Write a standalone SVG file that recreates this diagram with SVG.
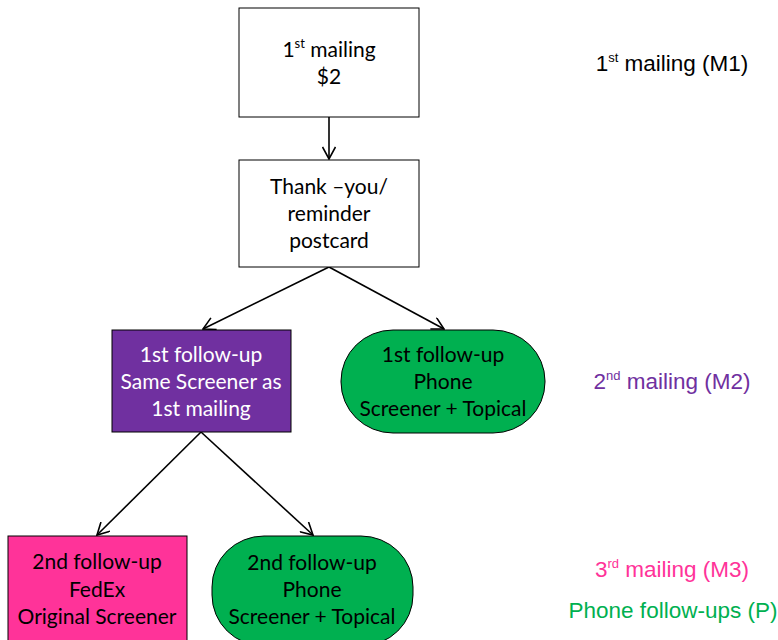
<svg xmlns="http://www.w3.org/2000/svg" width="778" height="640" viewBox="0 0 778 640">
<defs>
<marker id="arr" viewBox="0 0 14 14" refX="13" refY="7" markerWidth="14" markerHeight="14" markerUnits="userSpaceOnUse" orient="auto">
<path d="M1,0.5 L13,7 L1,13.5" fill="none" stroke="#000" stroke-width="1.6"/>
</marker>
<style>
.box{stroke:#000;stroke-width:1}
.t{font-family:Lato,"Liberation Sans",sans-serif;font-size:21px;text-anchor:middle}
.r{font-family:"Liberation Sans",Arial,sans-serif;font-size:22.5px;text-anchor:middle}
.sup{font-size:13px}
.c{stroke:#000;stroke-width:1.6;fill:none}
</style>
</defs>
<rect width="778" height="640" fill="#fff"/>
<g id="connectors">
<line class="c" x1="329" y1="117" x2="329" y2="159" marker-end="url(#arr)"/>
<line class="c" x1="329" y1="267" x2="203" y2="329" marker-end="url(#arr)"/>
<line class="c" x1="329" y1="267" x2="444" y2="329" marker-end="url(#arr)"/>
<line class="c" x1="201" y1="432" x2="97" y2="535" marker-end="url(#arr)"/>
<line class="c" x1="201" y1="432" x2="313" y2="535" marker-end="url(#arr)"/>
</g>
<g id="m1">
<rect class="box" x="239" y="8" width="180" height="109" fill="#fff"/>
<text class="t" x="329" y="57">1<tspan class="sup" dy="-9">st</tspan><tspan dy="9"> mailing</tspan></text>
<text class="t" x="329" y="84">$2</text>
</g>
<g id="postcard">
<rect class="box" x="239" y="160" width="180" height="107" fill="#fff"/>
<text class="t" x="329" y="194">Thank –you/</text>
<text class="t" x="329" y="221">reminder</text>
<text class="t" x="329" y="248">postcard</text>
</g>
<g id="fu1">
<rect class="box" x="112" y="330" width="179" height="102" fill="#7030A0"/>
<text class="t" x="201" y="362" fill="#fff">1st follow-up</text>
<text class="t" x="201" y="389" fill="#fff">Same Screener as</text>
<text class="t" x="201" y="416" fill="#fff">1st mailing</text>
</g>
<g id="fu1phone">
<rect class="box" x="341" y="330" width="204" height="103" rx="52" ry="51" fill="#00B050"/>
<text class="t" x="443" y="362">1st follow-up</text>
<text class="t" x="443" y="389">Phone</text>
<text class="t" x="443" y="416">Screener + Topical</text>
</g>
<g id="fu2">
<rect class="box" x="8" y="536" width="179" height="110" fill="#FF3399"/>
<text class="t" x="97" y="569">2nd follow-up</text>
<text class="t" x="97" y="597">FedEx</text>
<text class="t" x="97" y="624">Original Screener</text>
</g>
<g id="fu2phone">
<rect class="box" x="212" y="536" width="201" height="110" rx="52" ry="51" fill="#00B050"/>
<text class="t" x="312" y="570">2nd follow-up</text>
<text class="t" x="312" y="597">Phone</text>
<text class="t" x="312" y="624">Screener + Topical</text>
</g>
<g id="labels">
<text class="r" x="672" y="71">1<tspan class="sup" dy="-9">st</tspan><tspan dy="9"> mailing (M1)</tspan></text>
<text class="r" x="672" y="389" fill="#7030A0">2<tspan class="sup" dy="-9">nd</tspan><tspan dy="9"> mailing (M2)</tspan></text>
<text class="r" x="672" y="577" fill="#FF3399">3<tspan class="sup" dy="-9">rd</tspan><tspan dy="9"> mailing (M3)</tspan></text>
<text class="r" x="673" y="618" fill="#00B050">Phone follow-ups (P)</text>
</g>
</svg>
